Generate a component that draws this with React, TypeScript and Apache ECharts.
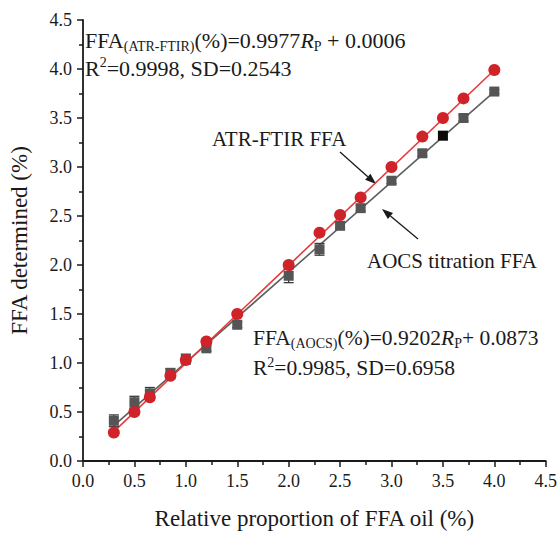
import React, { useEffect, useRef } from "react";
import * as echarts from "echarts";

// Relative proportion of FFA oil (%)
const proportions = [0.3, 0.5, 0.65, 0.85, 1.0, 1.2, 1.5, 2.0, 2.3, 2.5, 2.7, 3.0, 3.3, 3.5, 3.7, 4.0];
// ATR-FTIR FFA determined (%)
const atrValues = [0.29, 0.5, 0.65, 0.87, 1.03, 1.22, 1.5, 2.0, 2.33, 2.51, 2.69, 3.0, 3.31, 3.5, 3.7, 3.99];
const atrErrors = [0.03, 0.03, 0.03, 0.03, 0.03, 0.02, 0.02, 0.02, 0.02, 0.02, 0.02, 0.02, 0.02, 0.02, 0.02, 0.02];
// AOCS titration FFA determined (%)
const aocsValues = [0.41, 0.6, 0.69, 0.9, 1.04, 1.15, 1.39, 1.89, 2.16, 2.4, 2.58, 2.86, 3.14, 3.32, 3.5, 3.77];
const aocsErrors = [0.06, 0.06, 0.06, 0.04, 0.05, 0.03, 0.03, 0.07, 0.06, 0.03, 0.03, 0.03, 0.03, 0.04, 0.03, 0.02];
const highlightIndex = 13;
// Fitted lines (end points)
const fitX = [0.3, 4.0];
const fitAtrY = [0.3, 3.99];
const fitAocsY = [0.36, 3.77];
// Axis ticks
const axisMin = 0;
const axisMax = 4.5;
const axisInterval = 0.5;

const FONT = "'Liberation Serif', 'Times New Roman', serif";
const INK = "#1a1a1a";
const RED = "#cf2229";
const RED_LINE = "#e8383a";
const GRAY = "#555555";
const GRAY_LINE = "#5e5e5e";

function richStyles(size: number, sub: number) {
  return {
    m: { fontFamily: FONT, fontSize: size, lineHeight: size + 4, fill: INK },
    i: { fontFamily: FONT, fontSize: size, lineHeight: size + 4, fontStyle: "italic", fill: INK },
    s: { fontFamily: FONT, fontSize: sub, lineHeight: 12, verticalAlign: "bottom", fill: INK },
    u: { fontFamily: FONT, fontSize: sub, lineHeight: 16, verticalAlign: "top", fill: INK },
  };
}

function eqText(x: number, y: number, text: string, size: number, sub: number) {
  return {
    type: "text",
    x,
    y,
    silent: true,
    style: {
      text,
      rich: richStyles(size, sub),
      fontFamily: FONT,
      fontSize: size,
      fill: INK,
      align: "left",
      verticalAlign: "middle",
    },
  };
}

function plainText(x: number, y: number, text: string) {
  return {
    type: "text",
    x,
    y,
    silent: true,
    style: {
      text,
      fontFamily: FONT,
      fontSize: 21,
      fill: INK,
      align: "left",
      verticalAlign: "middle",
    },
  };
}

function arrow(x1: number, y1: number, x2: number, y2: number) {
  const ang = Math.atan2(y2 - y1, x2 - x1);
  const len = 11;
  const half = 4;
  const bx = x2 - len * Math.cos(ang);
  const by = y2 - len * Math.sin(ang);
  const px = -Math.sin(ang) * half;
  const py = Math.cos(ang) * half;
  return [
    {
      type: "line",
      silent: true,
      shape: { x1, y1, x2: bx, y2: by },
      style: { stroke: INK, lineWidth: 1.3 },
    },
    {
      type: "polygon",
      silent: true,
      shape: { points: [[x2, y2], [bx + px, by + py], [bx - px, by - py]] },
      style: { fill: INK },
    },
  ];
}

function errorBarSeries(values: number[], errors: number[], color: string) {
  return {
    type: "custom",
    z: 3,
    silent: true,
    data: proportions.map((x, i) => [x, values[i] - errors[i], values[i] + errors[i]]),
    encode: { x: 0, y: [1, 2] },
    renderItem: (params: any, api: any) => {
      const x = api.value(0);
      const lo = api.coord([x, api.value(1)]);
      const hi = api.coord([x, api.value(2)]);
      const w = 5;
      const st = { stroke: color, lineWidth: 1.3 };
      return {
        type: "group",
        children: [
          { type: "line", shape: { x1: lo[0], y1: lo[1], x2: hi[0], y2: hi[1] }, style: st },
          { type: "line", shape: { x1: lo[0] - w, y1: lo[1], x2: lo[0] + w, y2: lo[1] }, style: st },
          { type: "line", shape: { x1: hi[0] - w, y1: hi[1], x2: hi[0] + w, y2: hi[1] }, style: st },
        ],
      };
    },
  };
}

const axisCommon = {
  type: "value",
  min: axisMin,
  max: axisMax,
  interval: axisInterval,
  nameLocation: "middle",
  nameTextStyle: { fontFamily: FONT, fontSize: 23, color: INK },
  axisLine: { show: true, onZero: false, lineStyle: { color: INK, width: 1.8 } },
  axisTick: { show: true, inside: false, length: 6, lineStyle: { color: INK, width: 1.5 } },
  minorTick: { show: true, splitNumber: 2, length: 4, lineStyle: { color: INK, width: 1.5 } },
  splitLine: { show: false },
  minorSplitLine: { show: false },
  axisLabel: {
    fontFamily: FONT,
    fontSize: 18,
    color: INK,
    formatter: (v: number) => v.toFixed(1),
    showMinLabel: true,
    showMaxLabel: true,
  },
};

export default function App() {
  const ref = useRef<HTMLDivElement>(null);

  useEffect(() => {
    if (!ref.current) return;
    const chart = echarts.init(ref.current, null, { renderer: "svg" });
    const option: any = {
      animation: false,
      backgroundColor: "#ffffff",
      grid: { left: 75, right: 12, top: 20, bottom: 59 },
      xAxis: {
        ...axisCommon,
        name: "Relative proportion of FFA oil (%)",
        nameGap: 46,
        axisLabel: { ...axisCommon.axisLabel, margin: 11 },
      },
      yAxis: {
        ...axisCommon,
        name: "FFA determined (%)",
        nameGap: 52,
        axisLabel: { ...axisCommon.axisLabel, margin: 11 },
      },
      series: [
        {
          type: "line",
          z: 2,
          silent: true,
          showSymbol: false,
          data: fitX.map((x, i) => [x, fitAocsY[i]]),
          lineStyle: { color: GRAY_LINE, width: 1.6 },
        },
        {
          type: "line",
          z: 2,
          silent: true,
          showSymbol: false,
          data: fitX.map((x, i) => [x, fitAtrY[i]]),
          lineStyle: { color: RED_LINE, width: 1.6 },
        },
        errorBarSeries(aocsValues, aocsErrors, "#3a3a3a"),
        errorBarSeries(atrValues, atrErrors, "#b01e1e"),
        {
          type: "scatter",
          z: 4,
          symbol: "rect",
          symbolSize: 10,
          data: proportions.map((x, i) =>
            i === highlightIndex
              ? { value: [x, aocsValues[i]], itemStyle: { color: "#0a0a0a" } }
              : { value: [x, aocsValues[i]] }
          ),
          itemStyle: { color: GRAY, opacity: 1 },
        },
        {
          type: "scatter",
          z: 5,
          symbol: "circle",
          symbolSize: 12,
          data: proportions.map((x, i) => [x, atrValues[i]]),
          itemStyle: { color: RED, opacity: 1 },
        },
      ],
      graphic: [
        eqText(85, 40, "{m|FFA}{s|(ATR-FTIR)}{m|(%)=0.9977}{i|R}{s|P}{m| + 0.0006}", 22, 14),
        eqText(85, 68, "{m|R}{u|2}{m|=0.9998, SD=0.2543}", 22, 14),
        eqText(253, 338, "{m|FFA}{s|(AOCS)}{m|(%)=0.9202}{i|R}{s|P}{m|+ 0.0873}", 21.5, 14),
        eqText(253, 368, "{m|R}{u|2}{m|=0.9985, SD=0.6958}", 21.5, 14),
        plainText(212, 139, "ATR-FTIR FFA"),
        plainText(367, 261, "AOCS titration FFA"),
        ...arrow(340, 152, 376, 184),
        ...arrow(418, 239, 382, 209),
      ],
    };
    chart.setOption(option);
    return () => chart.dispose();
  }, []);

  return (
    <div
      ref={ref}
      style={{ position: "fixed", left: 0, top: 0, width: 560, height: 535, background: "#fff" }}
    />
  );
}
